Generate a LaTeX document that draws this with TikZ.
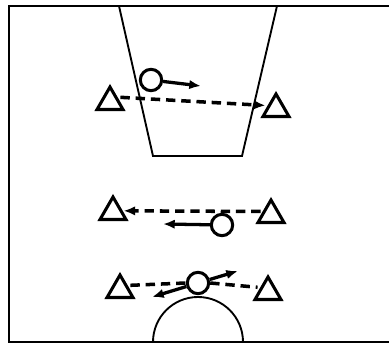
\documentclass[tikz,border=0pt]{standalone}
\usetikzlibrary{shapes.geometric, arrows.meta}
\begin{document}
\begin{tikzpicture}[x=0.03cm, y=0.03cm,
  player/.style={regular polygon, regular polygon sides=3, draw, line width=2.6pt, minimum size=0.9cm, inner sep=0pt},
  ball/.style={circle, draw, line width=2.6pt, minimum size=0.64cm, inner sep=0pt},
  pass/.style={line width=3pt, dash pattern=on 8pt off 5pt},
  run/.style={line width=2.8pt, -{Latex[length=10pt,width=8pt]}}]
  \useasboundingbox (0,0) rectangle (389,344);
  % Court lines
  \draw[line width=1.8pt] (389,338) -- (9,338) -- (9,2) -- (389,2);
  \draw[line width=1.6pt] (119,338) -- (153,188) -- (242,188) -- (277,338);
  \draw[line width=1.6pt] (153,2) arc[start angle=180, end angle=0, radius=1.35cm];
  % Players
  \foreach \n/\x/\y in {t1/110/242, t2/276/235, t3/113/132, t4/271/129, t5/120/54, t6/268/52}{
    \node[player] (\n) at (\x,\y) {};
  }
  % Balls and where they go
  \foreach \n/\x/\y in {b1/151/264, b2/222/119, b3/198/61}{
    \node[ball, fill=white] (\n) at (\x,\y) {};
  }
  \coordinate (e1) at (201,258);
  \coordinate (e2) at (163,120);
  \coordinate (e3) at (238,73);
  \coordinate (e4) at (152,47);
  % Passes
  \draw[pass, -{Latex[length=10pt,width=8pt]}] ([yshift=4pt]t1.east) -- ([yshift=3pt]t2.west);
  \draw[pass, -{Latex[length=10pt,width=8pt]}] ([yshift=3pt]t4.west) -- ([yshift=1pt]t3.east);
  \draw[pass] ([yshift=4pt]t5.east) -- (b3.west);
  \draw[pass] (b3.east) -- ([yshift=4pt]t6.west);
  % Runs
  \draw[run] (b1) -- (e1);
  \draw[run] (b2) -- (e2);
  \draw[run] (b3) -- (e3);
  \draw[run] (b3) -- (e4);
\end{tikzpicture}
\end{document}
